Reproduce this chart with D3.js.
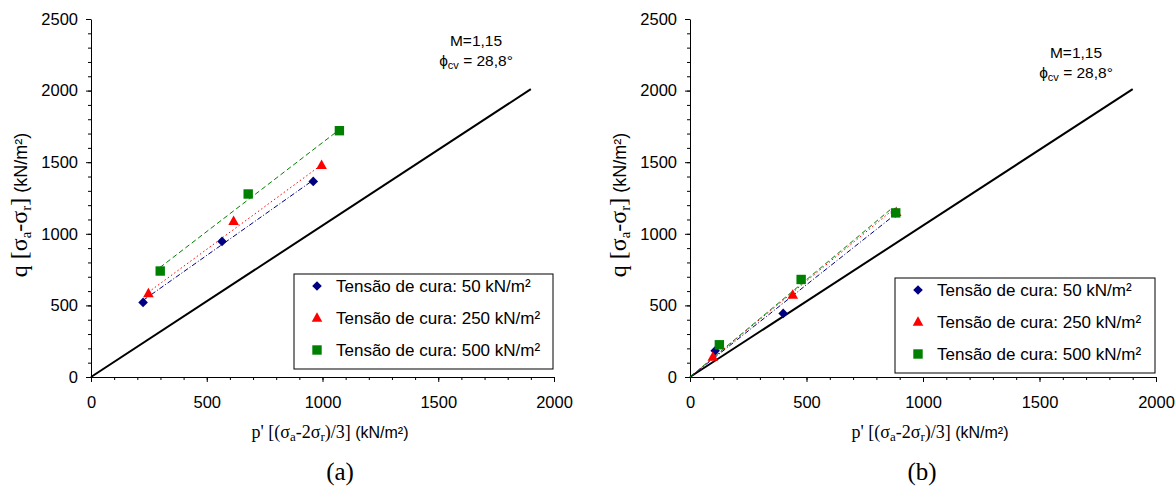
<!DOCTYPE html>
<html><head><meta charset="utf-8">
<script src="https://cdn.jsdelivr.net/npm/d3@7"></script>
<style>body{margin:0;background:#fff} svg{display:block}</style>
</head><body>
<svg id="c" width="1175" height="493"></svg>
<script>
// ---------- data ----------
const xTickValues = [0, 500, 1000, 1500, 2000];
const yTickValues = [0, 500, 1000, 1500, 2000, 2500];
const seriesLabels = ["Tensão de cura: 50 kN/m²", "Tensão de cura: 250 kN/m²", "Tensão de cura: 500 kN/m²"];
const seriesColors = ["#000080", "#ff0000", "#008000"];
const seriesSymbols = ["diamond", "triangle", "square"];
const seriesDash = ["5,2,1,2", "1.5,2.5", "5,3"];
const panelCaptions = ["(a)", "(b)"];
const annotLine1 = "M=1,15";
const refLine = [[0, 0], [1900, 2010]];

// panel (a)
const a50  = [[225, 521], [566, 947], [960, 1366]];
const a250 = [[248, 583], [616, 1088], [996, 1479]];
const a500 = [[299, 740], [679, 1278], [1073, 1720]];
const aTrend50  = [[225, 535], [960, 1375]];
const aTrend250 = [[248, 592], [996, 1482]];
const aTrend500 = [[298, 765], [1075, 1730]];

// panel (b)
const b50  = [[108, 183], [400, 444], [881, 1146]];
const b250 = [[98, 139], [441, 572], [885, 1150]];
const b500 = [[126, 225], [477, 681], [883, 1146]];
const bTrend50  = [[0, 0], [860, 1108]];
const bTrend250 = [[0, 0], [880, 1180]];
const bTrend500 = [[0, 0], [862, 1172]];

// ---------- drawing ----------
const svg = d3.select("#c");
const SANS = "'Liberation Sans', Arial, sans-serif";
const SERIF = "'Liberation Serif', 'Times New Roman', serif";

const panels = [
  {x0: 91, x1: 554, yTop: 19, yBot: 377, pts: [a50, a250, a500], trends: [aTrend50, aTrend250, aTrend500],
   legend: {x: 294, y: 274, w: 259, h: 95}, annot: {x: 476, y: 46}, caption: {x: 340, y: 480}, ytitle: {x: 27, y: 205}, xtitle: {x: 330, y: 438}},
  {x0: 690, x1: 1156, yTop: 19, yBot: 377, pts: [b50, b250, b500], trends: [bTrend50, bTrend250, bTrend500],
   legend: {x: 895, y: 278, w: 260, h: 95}, annot: {x: 1076, y: 58}, caption: {x: 922, y: 480}, ytitle: {x: 626, y: 205}, xtitle: {x: 930, y: 438}}
];

function symbolPath(type) {
  if (type === "diamond") return "M0,-4.8L4.8,0L0,4.8L-4.8,0Z";
  if (type === "triangle") return "M0,-5.8L5.3,3.7L-5.3,3.7Z";
  return "M-4.7,-4.7L4.7,-4.7L4.7,4.7L-4.7,4.7Z";
}

panels.forEach((p, pi) => {
  const g = svg.append("g");
  const x = d3.scaleLinear().domain([0, 2000]).range([p.x0, p.x1]);
  const y = d3.scaleLinear().domain([0, 2500]).range([p.yBot, p.yTop]);

  // minor ticks
  g.append("g").attr("transform", `translate(0,${p.yBot})`)
    .call(d3.axisBottom(x).tickValues(d3.range(0, 2001, 100)).tickSize(3).tickSizeOuter(0).tickFormat(""))
    .call(s => s.select(".domain").remove());
  g.append("g").attr("transform", `translate(${p.x0},0)`)
    .call(d3.axisLeft(y).tickValues(d3.range(0, 2501, 100)).tickSize(3).tickSizeOuter(0).tickFormat(""))
    .call(s => s.select(".domain").remove());

  // major axes
  const xa = g.append("g").attr("transform", `translate(0,${p.yBot})`)
    .call(d3.axisBottom(x).tickValues(xTickValues).tickSize(5).tickSizeOuter(0).tickPadding(14).tickFormat(d3.format("d")));
  const ya = g.append("g").attr("transform", `translate(${p.x0},0)`)
    .call(d3.axisLeft(y).tickValues(yTickValues).tickSize(5).tickSizeOuter(0).tickPadding(8).tickFormat(d3.format("d")));
  [xa, ya].forEach(a => {
    a.selectAll("text").attr("font-family", SANS).attr("font-size", 16.5).attr("fill", "#000");
    a.selectAll("line").attr("stroke", "#000");
    a.select(".domain").attr("stroke", "#000");
  });
  g.selectAll(".tick line").attr("stroke", "#000");

  // reference line
  const line = d3.line().x(d => x(d[0])).y(d => y(d[1]));
  g.append("path").attr("d", line(refLine)).attr("fill", "none").attr("stroke", "#000").attr("stroke-width", 2);

  // trend lines
  p.trends.forEach((t, i) => {
    g.append("path").attr("d", line(t)).attr("fill", "none")
      .attr("stroke", seriesColors[i]).attr("stroke-width", 1).attr("stroke-dasharray", seriesDash[i]);
  });
  // markers
  p.pts.forEach((pts, i) => {
    g.selectAll(null).data(pts).enter().append("path")
      .attr("d", symbolPath(seriesSymbols[i]))
      .attr("transform", d => `translate(${x(d[0])},${y(d[1])})`)
      .attr("fill", seriesColors[i]);
  });

  // legend
  const L = p.legend;
  const lg = g.append("g").attr("transform", `translate(${L.x},${L.y})`);
  lg.append("rect").attr("width", L.w).attr("height", L.h).attr("fill", "#fff").attr("stroke", "#000").attr("stroke-width", 1);
  seriesLabels.forEach((lab, i) => {
    const cy = 12 + i * 32;
    lg.append("path").attr("d", symbolPath(seriesSymbols[i])).attr("transform", `translate(23,${cy})`).attr("fill", seriesColors[i]);
    lg.append("text").attr("x", 42).attr("y", cy).attr("dy", "0.36em")
      .attr("font-family", SANS).attr("font-size", 17).attr("fill", "#000").text(lab);
  });

  // annotation
  const an = g.append("g").attr("font-family", SANS).attr("font-size", 15.5).attr("fill", "#000").attr("text-anchor", "middle");
  an.append("text").attr("x", p.annot.x).attr("y", p.annot.y).text(annotLine1);
  const t2 = an.append("text").attr("x", p.annot.x).attr("y", p.annot.y + 20);
  t2.append("tspan").text("ϕ");
  t2.append("tspan").attr("font-size", 11).attr("dy", 3).text("cv");
  t2.append("tspan").attr("dy", -3).text(" = 28,8°");

  // y title
  const yt = g.append("text").attr("transform", `translate(${p.ytitle.x},${p.ytitle.y}) rotate(-90)`)
    .attr("text-anchor", "middle").attr("fill", "#000");
  yt.append("tspan").attr("font-family", SERIF).attr("font-size", 24).text("q [σ");
  yt.append("tspan").attr("font-family", SERIF).attr("font-size", 15).attr("dy", 4).text("a");
  yt.append("tspan").attr("font-family", SERIF).attr("font-size", 24).attr("dy", -4).text("-σ");
  yt.append("tspan").attr("font-family", SERIF).attr("font-size", 15).attr("dy", 4).text("r");
  yt.append("tspan").attr("font-family", SERIF).attr("font-size", 24).attr("dy", -4).text("]");
  yt.append("tspan").attr("font-family", SANS).attr("font-size", 18).text(" (kN/m²)");

  // x title
  const xt = g.append("text").attr("x", p.xtitle.x).attr("y", p.xtitle.y)
    .attr("text-anchor", "middle").attr("fill", "#000");
  xt.append("tspan").attr("font-family", SERIF).attr("font-size", 18).text("p' [(σ");
  xt.append("tspan").attr("font-family", SERIF).attr("font-size", 13).attr("dy", 3).text("a");
  xt.append("tspan").attr("font-family", SERIF).attr("font-size", 18).attr("dy", -3).text("-2σ");
  xt.append("tspan").attr("font-family", SERIF).attr("font-size", 13).attr("dy", 3).text("r");
  xt.append("tspan").attr("font-family", SERIF).attr("font-size", 18).attr("dy", -3).text(")/3]");
  xt.append("tspan").attr("font-family", SANS).attr("font-size", 16).text(" (kN/m²)");

  // caption
  g.append("text").attr("x", p.caption.x).attr("y", p.caption.y).attr("text-anchor", "middle")
    .attr("font-family", SERIF).attr("font-size", 25).attr("fill", "#000").text(panelCaptions[pi]);
});
</script>
</body></html>
